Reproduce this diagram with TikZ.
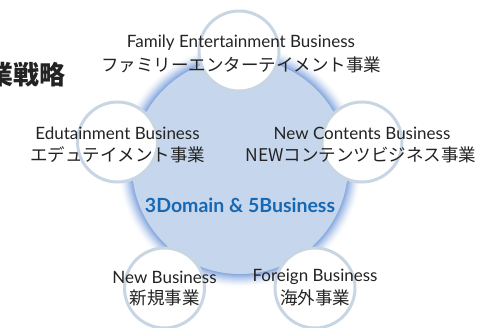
\documentclass[tikz,border=0pt]{standalone}
\usepackage{fontspec}
\setmainfont{Lato}
\newfontfamily\jp{Noto Sans CJK JP}
\definecolor{fillblue}{RGB}{198,214,237}
\definecolor{glowblue}{RGB}{138,170,224}
\definecolor{ringgray}{RGB}{200,214,228}
\definecolor{textblue}{RGB}{22,104,178}
\definecolor{textgray}{RGB}{35,35,35}
\tikzset{
  bizcircle/.style={circle, draw=ringgray, line width=3pt, fill=white, minimum size=80pt, inner sep=0pt},
  entext/.style={text=textgray, font=\fontsize{17}{17}\selectfont, inner sep=0pt},
  jptext/.style={text=textgray, font=\jp\fontsize{17.5}{17.5}\selectfont, inner sep=0pt},
}
\begin{document}
\begin{tikzpicture}[x=1pt,y=-1pt]
\useasboundingbox (0,0) rectangle (482,327);
\clip (0,0) rectangle (482,327);
\fill[white] (0,0) rectangle (482,327);
% glow
\foreach \i in {0,...,13}{
  \pgfmathsetmacro\p{100*(\i/13)^1.5}
  \fill[glowblue!\p!white] (240,166) circle ({122-\i});
}
\node[circle, fill=fillblue, minimum size=216pt, inner sep=0pt] (core) at (240,166) {};
% small circles
\node[bizcircle] (c1) at (239,51) {};
\node[bizcircle] (c2) at (117.5,142) {};
\node[bizcircle] (c3) at (362,142) {};
\node[bizcircle] (c4) at (164.5,288) {};
\node[bizcircle] (c5) at (315,288) {};
% title
\node[anchor=east, text=textgray, font=\jp\bfseries\fontsize{26}{26}\selectfont, inner sep=0pt] (title) at (66,75) {業戦略};
% labels
\node[entext] (e1) at (241,43) {Family Entertainment Business};
\node[jptext] (j1) at (241,65) {ファミリーエンターテイメント事業};
\node[entext] (e2) at (117.5,133) {Edutainment Business};
\node[jptext] (j2) at (118,155) {エデュテイメント事業};
\node[entext] (e3) at (362,133) {New Contents Business};
\node[jptext] (j3) at (361,155) {NEWコンテンツビジネス事業};
\node[entext] (e4) at (164.5,277) {New Business};
\node[jptext] (j4) at (164.5,298) {新規事業};
\node[entext] (e5) at (315,277) {Foreign Business};
\node[jptext] (j5) at (315,298) {海外事業};
\node[text=textblue, font=\bfseries\fontsize{19.5}{19.5}\selectfont, inner sep=0pt] (center) at (240,205) {3Domain \& 5Business};
\end{tikzpicture}
\end{document}
